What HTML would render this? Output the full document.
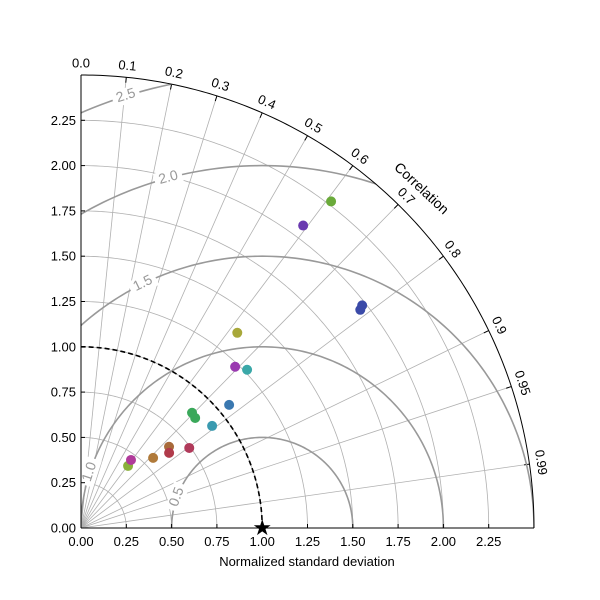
<!DOCTYPE html>
<html><head><meta charset="utf-8"><style>
body{margin:0;background:#fff}
svg{display:block;font-family:"Liberation Sans","DejaVu Sans",sans-serif}
</style></head><body>
<svg id="c" width="600" height="600" viewBox="0 0 600 600"></svg>
<script>
const stdDevs=[2.270,2.071,1.979,1.956,1.380,1.231,1.266,1.063,0.883,0.875,0.917,0.661,0.639,0.743,0.555,0.430,0.466];
const correlations=[0.608,0.592,0.784,0.788,0.625,0.691,0.724,0.769,0.694,0.720,0.789,0.735,0.761,0.804,0.717,0.604,0.592];
const colors=["#6aaa3a","#6a3ab0","#3a4aa8","#3a4aa8","#a8a83a","#9a3ab0","#3aa8a8","#3a78b0","#3aa85a","#3aa85a","#3a9ab0","#a86a3a","#b03a4a","#b03a5a","#b07a3a","#8ab03a","#b03a9a"];
const stdTicks=["0.00","0.25","0.50","0.75","1.00","1.25","1.50","1.75","2.00","2.25"];
const corrTicks=["0.0","0.1","0.2","0.3","0.4","0.5","0.6","0.7","0.8","0.9","0.95","0.99"];
const rmsLevels=["0.5","1.0","1.5","2.0","2.5"];
const refStd=1.0, maxStd=2.5;
const OX=81,OY=528,S=181.2;
const sx=x=>OX+x*S, sy=y=>OY-y*S;
const svg=document.getElementById('c');
const NS='http://www.w3.org/2000/svg';
function mk(t,a,p){const e=document.createElementNS(NS,t);for(const k in a)e.setAttribute(k,a[k]);(p||svg).appendChild(e);return e;}
function arcPath(cx,cy,r,a0,a1){let d='';for(let i=0;i<=180;i++){const a=a0+(a1-a0)*i/180;d+=(i?'L':'M')+sx(cx+r*Math.cos(a)).toFixed(2)+','+sy(cy+r*Math.sin(a)).toFixed(2);}return d;}
// clip
const defs=mk('defs',{});
const cp=mk('clipPath',{id:'cl'},defs);
mk('path',{d:arcPath(0,0,maxStd,0,Math.PI/2)+'L'+sx(0)+','+sy(0)+'Z'},cp);
// std grid arcs
stdTicks.forEach(t=>{const v=+t;if(v<=0)return;
 const e=mk('path',{d:arcPath(0,0,v,0,Math.PI/2),fill:'none',stroke:'#b0b0b0','stroke-width':0.8});
 
 });
// corr radial lines
corrTicks.forEach(t=>{const c=+t;const a=Math.acos(c);
 const e=mk('line',{x1:sx(0),y1:sy(0),x2:sx(maxStd*Math.cos(a)),y2:sy(maxStd*Math.sin(a)),stroke:'#b0b0b0','stroke-width':0.8});
 
 
 const lr=2.56;
 const lx=sx(lr*Math.cos(a)),ly=sy(lr*Math.sin(a));
 const tx=mk('text',{x:lx,y:ly,'font-size':13,'text-anchor':'middle','dominant-baseline':'middle',transform:`rotate(${90-a*180/Math.PI} ${lx} ${ly})`});
 tx.textContent=t;
 
 
 const ti=mk('line',{x1:sx(maxStd*Math.cos(a)),y1:sy(maxStd*Math.sin(a)),x2:sx((maxStd-0.03)*Math.cos(a)),y2:sy((maxStd-0.03)*Math.sin(a)),stroke:'#000','stroke-width':1});
});
// RMS contours
const g=mk('g',{'clip-path':'url(#cl)'});
rmsLevels.forEach(t=>{const R=+t;
 const e=mk('path',{d:arcPath(refStd,0,R,0,Math.PI),fill:'none',stroke:'#999','stroke-width':1.6},g);
 
 });
// RMS labels
const rmsAngles=[160,162,116,105,107.5];
rmsLevels.forEach((t,i)=>{const R=+t;const phi=rmsAngles[i]*Math.PI/180;
 const lx=sx(refStd+R*Math.cos(phi)),ly=sy(R*Math.sin(phi));
 mk('rect',{x:lx-14,y:ly-8,width:28,height:16,fill:'#fff',transform:`rotate(${90-rmsAngles[i]} ${lx} ${ly})`});
 const tx=mk('text',{x:lx,y:ly,'font-size':14,fill:'#999','text-anchor':'middle','dominant-baseline':'middle',transform:`rotate(${90-rmsAngles[i]} ${lx} ${ly})`});
 tx.textContent=t;
 
 });
// reference dashed arc
const ref=mk('path',{d:arcPath(0,0,refStd,0,Math.PI/2),fill:'none',stroke:'#000','stroke-width':1.6,'stroke-dasharray':'5,3'});


// outer arc & axes
const oa=mk('path',{d:arcPath(0,0,maxStd,0,Math.PI/2),fill:'none',stroke:'#000','stroke-width':1});


const ya=mk('line',{x1:sx(0),y1:sy(0),x2:sx(0),y2:sy(maxStd),stroke:'#000','stroke-width':1});


const xa=mk('line',{x1:sx(0),y1:sy(0),x2:sx(maxStd),y2:sy(0),stroke:'#000','stroke-width':1});


stdTicks.forEach(t=>{const v=+t;
 mk('line',{x1:sx(0),y1:sy(v),x2:sx(0)+4,y2:sy(v),stroke:'#000'});
 mk('line',{x1:sx(v),y1:sy(0),x2:sx(v),y2:sy(0)-4,stroke:'#000'});
 const a=mk('text',{x:sx(0)-5,y:sy(v)+4.5,'font-size':13,'text-anchor':'end'});a.textContent=t;
 
 
 const b=mk('text',{x:sx(v),y:sy(0)+18,'font-size':13,'text-anchor':'middle'});b.textContent=t;
 
 });
const xt=mk('text',{x:307,y:566,'font-size':13,'text-anchor':'middle'});xt.textContent='Normalized standard deviation';


const ct=mk('text',{x:421,y:189,'font-size':14,'text-anchor':'middle','dominant-baseline':'middle',transform:'rotate(43 421 189)'});ct.textContent='Correlation';


// points
stdDevs.forEach((s,i)=>{const c=correlations[i];const a=Math.acos(c);
 const p=mk('circle',{cx:sx(s*Math.cos(a)),cy:sy(s*Math.sin(a)),r:5,fill:colors[i]});
 
 });
// reference star
const st=mk('text',{x:sx(refStd),y:sy(0)+7,'font-size':22,'text-anchor':'middle'});st.textContent='★';


</script>
</body></html>
